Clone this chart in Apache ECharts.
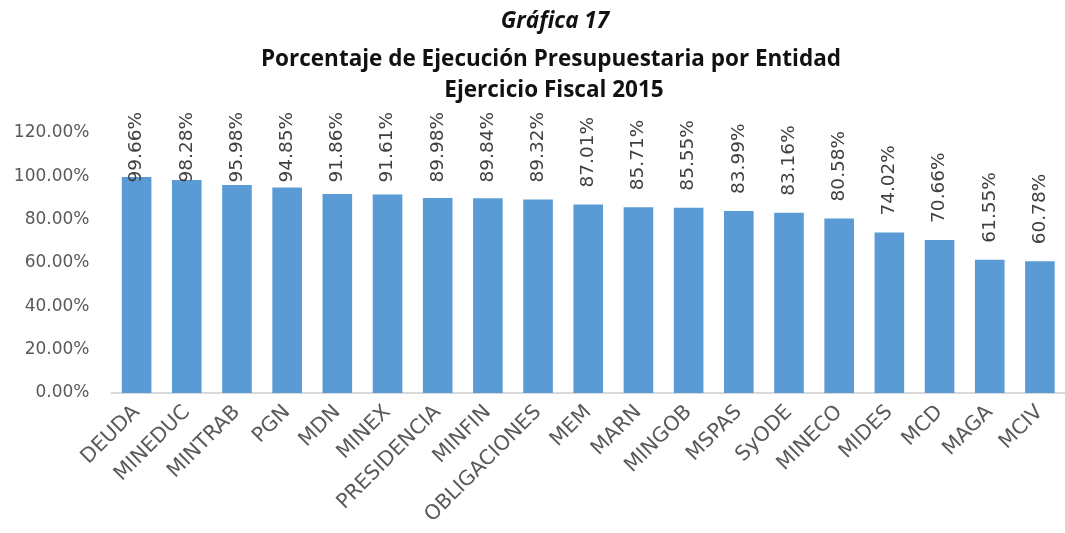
<!DOCTYPE html>
<html><head><meta charset="utf-8">
<script src="https://cdn.jsdelivr.net/npm/echarts@6/dist/echarts.min.js"></script>
<style>html,body{margin:0;padding:0;background:#fff}#c{width:1065px;height:533px}</style>
</head><body><div id="c"></div>
<script>
const titleLine1 = 'Gráfica 17';
const titleLine2 = 'Porcentaje de Ejecución Presupuestaria por Entidad';
const titleLine3 = 'Ejercicio Fiscal 2015';
const categories = ['DEUDA','MINEDUC','MINTRAB','PGN','MDN','MINEX','PRESIDENCIA','MINFIN','OBLIGACIONES','MEM','MARN','MINGOB','MSPAS','SyODE','MINECO','MIDES','MCD','MAGA','MCIV'];
const values = [99.66,98.28,95.98,94.85,91.86,91.61,89.98,89.84,89.32,87.01,85.71,85.55,83.99,83.16,80.58,74.02,70.66,61.55,60.78];
const valueLabels = ['99.66%','98.28%','95.98%','94.85%','91.86%','91.61%','89.98%','89.84%','89.32%','87.01%','85.71%','85.55%','83.99%','83.16%','80.58%','74.02%','70.66%','61.55%','60.78%'];
const yTicks = [0,20,40,60,80,100,120];

const FONT = 'DejaVu Sans';
const LABEL_SIZE = 18.5;
const chart = echarts.init(document.getElementById('c'), null, {renderer:'canvas'});
function buildOption(distances){
  const ts = {fontFamily:'Open Sans',fontWeight:'bold',fontSize:22.5,color:'#111'};
  return {
    animation:false,
    backgroundColor:'#ffffff',
    title:[
      {text:titleLine1,left:550,textAlign:'center',top:5,textStyle:Object.assign({},ts,{fontStyle:'italic'})},
      {text:titleLine2,left:546,textAlign:'center',top:43,textStyle:ts},
      {text:titleLine3,left:549,textAlign:'center',top:74,textStyle:ts}
    ],
    grid:{left:111.5,right:-14.4,top:133,bottom:140,containLabel:false},
    xAxis:{type:'category',data:categories,
      axisLine:{lineStyle:{color:'#d9d9d9',width:2}},
      axisTick:{show:false},
      axisLabel:{rotate:45,interval:0,margin:16,fontFamily:FONT,fontSize:20.5,color:'#595959'}},
    yAxis:{type:'value',min:yTicks[0],max:yTicks[yTicks.length-1],interval:yTicks[1]-yTicks[0],
      axisLine:{show:false},axisTick:{show:false},splitLine:{show:false},
      axisLabel:{margin:22,fontFamily:FONT,fontSize:17,color:'#595959',formatter:v=>v.toFixed(2)+'%'}},
    series:[{type:'bar',barCategoryGap:'41%',
      itemStyle:{color:'#5b9bd5'},
      data:values.map((v,i)=>({value:v,label:{distance:distances?distances[i]:17}})),
      label:{show:true,position:'top',rotate:90,align:'left',verticalAlign:'middle',
        fontFamily:FONT,fontSize:LABEL_SIZE,color:'#404040',
        formatter:p=>valueLabels[p.dataIndex]}}]
  };
}
chart.setOption(buildOption(null));
const cv=document.createElement('canvas').getContext('2d');
cv.font=LABEL_SIZE+'px "'+FONT+'"';
const dists=values.map((v,i)=>{
  const py=chart.convertToPixel({gridIndex:0},[i,v])[1];
  const w=cv.measureText(valueLabels[i]).width;
  return Math.min(17, py-112-w);
});
chart.setOption(buildOption(dists));
</script></body></html>
